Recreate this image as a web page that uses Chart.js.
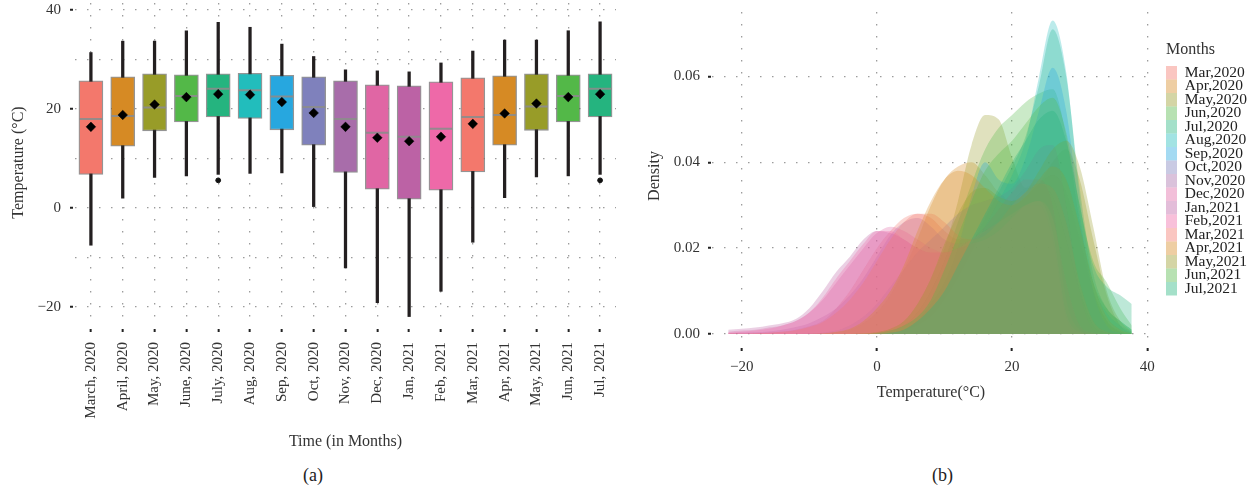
<!DOCTYPE html>
<html>
<head>
<meta charset="utf-8">
<script src="https://cdn.jsdelivr.net/npm/chart.js@4.4.1/dist/chart.umd.min.js"></script>
<style>
  html, body { margin:0; padding:0; background:#fff; }
  body { width:1258px; height:491px; position:relative; overflow:hidden; font-family:"Liberation Serif", serif; }
  #boxWrap { position:absolute; left:0; top:0; }
  #densWrap { position:absolute; left:640px; top:0; }
  .cap { position:absolute; top:465px; font-size:18px; line-height:20px; color:#222; }
</style>
</head>
<body>
<div id="boxWrap"><canvas id="boxChart" width="640" height="455"></canvas></div>
<div id="densWrap"><canvas id="densChart" width="618" height="420"></canvas></div>
<div class="cap" style="left:303px">(a)</div>
<div class="cap" style="left:932px">(b)</div>
<script>
const FONT = '"Liberation Serif", "Times New Roman", serif';

// ---- panel (a): monthly box plots ----
const months = ["March, 2020","April, 2020","May, 2020","June, 2020","July, 2020","Aug, 2020","Sep, 2020",
  "Oct, 2020","Nov, 2020","Dec, 2020","Jan, 2021","Feb, 2021","Mar, 2021","Apr, 2021","May, 2021","Jun, 2021","Jul, 2021"];
const whiskLo = [-7.5, 2.0, 6.2, 6.5, 6.8, 7.0, 7.1, 0.3, -12.1, -19.1, -21.9, -16.8, -6.9, 2.1, 6.3, 6.5, 6.8];
const q1      = [ 6.8, 12.5, 15.6, 17.4, 18.4, 18.1, 15.8, 12.7, 7.2, 3.8, 1.8, 3.6, 7.3, 12.7, 15.7, 17.4, 18.4];
const median  = [18.0, 18.6, 20.3, 22.6, 24.1, 23.8, 22.5, 20.4, 18.0, 15.2, 14.4, 16.0, 18.4, 18.8, 20.5, 22.6, 24.1];
const q3      = [25.7, 26.5, 27.1, 26.9, 27.1, 27.2, 26.8, 26.5, 25.7, 24.9, 24.7, 25.5, 26.3, 26.7, 27.1, 26.9, 27.1];
const whiskHi = [31.4, 33.7, 33.7, 35.8, 37.5, 36.5, 33.1, 30.6, 27.9, 27.7, 27.5, 29.3, 31.7, 33.9, 33.9, 35.8, 37.6];
const mean    = [16.4, 18.8, 20.9, 22.4, 23.0, 22.9, 21.4, 19.2, 16.4, 14.2, 13.5, 14.4, 17.0, 19.1, 21.1, 22.4, 23.0];
const outlier = [null, null, null, null, 5.6, null, null, null, null, null, null, null, null, null, null, null, 5.6];
const yTicksA = [-20, -10, 0, 10, 20, 30, 40];

const palette = ["#F3786C","#D68A24","#989C28","#53B848","#25B47F","#22BDBC","#27A7DF","#7F81BC","#A86DAA",
  "#E066A4","#BC62A5","#EE69A8","#F3786C","#D68A24","#989C28","#53B848","#25B47F"];

// ---- panel (b): density curves ----
const densMonths = ["Mar,2020","Apr,2020","May,2020","Jun,2020","Jul,2020","Aug,2020","Sep,2020","Oct,2020",
  "Nov,2020","Dec,2020","Jan,2021","Feb,2021","Mar,2021","Apr,2021","May,2021","Jun,2021","Jul,2021"];
const tempX = [-22,-20,-18,-16,-14,-12,-10,-8,-6,-4,-2,0,2,4,6,8,10,12,14,16,18,20,22,24,26,28,30,32,34,36,37.7];
const densMar20 = [0.0001,0.0001,0.0002,0.0003,0.0005,0.001,0.0018,0.003,0.006,0.010,0.015,0.020,0.024,0.027,0.028,0.027,0.024,0.022,0.022,0.024,0.027,0.031,0.034,0.035,0.032,0.022,0.010,0.002,0.0003,0,0];
const densApr20 = [0,0,0,0,0,0,0,0.0001,0.0004,0.001,0.0025,0.005,0.009,0.015,0.022,0.030,0.036,0.039,0.040,0.037,0.033,0.031,0.032,0.035,0.037,0.033,0.022,0.010,0.003,0.0005,0];
const densMay20 = [0,0,0,0,0,0,0,0,0,0,0.0001,0.0004,0.0012,0.003,0.007,0.013,0.020,0.031,0.044,0.051,0.050,0.041,0.034,0.035,0.040,0.043,0.036,0.022,0.009,0.002,0.0002];
const densJun20 = [0,0,0,0,0,0,0,0,0,0,0,0.0002,0.0008,0.002,0.005,0.010,0.017,0.026,0.035,0.043,0.048,0.051,0.054,0.056,0.057,0.046,0.026,0.012,0.006,0.003,0.001];
const densJul20 = [0,0,0,0,0,0,0,0,0,0,0,0,0.0003,0.001,0.003,0.006,0.010,0.015,0.021,0.027,0.033,0.039,0.046,0.058,0.071,0.060,0.034,0.014,0.006,0.003,0.001];
const densAug20 = [0,0,0,0,0,0,0,0,0,0,0,0,0.0002,0.0008,0.002,0.004,0.008,0.013,0.019,0.025,0.031,0.037,0.045,0.060,0.073,0.061,0.032,0.012,0.005,0.002,0.0005];
const densSep20 = [0,0,0,0,0,0,0,0,0,0,0,0,0.0003,0.001,0.003,0.007,0.012,0.020,0.032,0.040,0.036,0.035,0.041,0.052,0.062,0.052,0.028,0.010,0.002,0.0003,0];
const densOct20 = [0,0,0,0,0,0,0.0001,0.0003,0.0008,0.002,0.004,0.007,0.011,0.015,0.019,0.022,0.025,0.028,0.030,0.031,0.032,0.034,0.038,0.043,0.044,0.030,0.010,0.001,0,0,0];
const densNov20 = [0.0002,0.0003,0.0004,0.0006,0.001,0.0016,0.0025,0.004,0.006,0.009,0.013,0.018,0.023,0.026,0.027,0.025,0.022,0.021,0.022,0.025,0.029,0.033,0.036,0.036,0.030,0.008,0.001,0,0,0,0];
const densDec20 = [0.0005,0.0008,0.001,0.0015,0.002,0.003,0.005,0.008,0.012,0.016,0.020,0.0235,0.025,0.024,0.022,0.020,0.019,0.020,0.021,0.022,0.024,0.027,0.030,0.031,0.024,0.005,0.0005,0,0,0,0];
const densJan21 = [0.001,0.0012,0.0015,0.002,0.0025,0.0035,0.006,0.010,0.0145,0.018,0.022,0.024,0.0235,0.022,0.020,0.019,0.019,0.020,0.021,0.022,0.024,0.027,0.030,0.030,0.022,0.004,0.0003,0,0,0,0];
const densFeb21 = [0.0003,0.0005,0.0008,0.0012,0.002,0.003,0.005,0.0085,0.013,0.017,0.021,0.024,0.024,0.022,0.020,0.019,0.019,0.020,0.022,0.024,0.026,0.028,0.030,0.031,0.027,0.012,0.002,0.0003,0,0,0];
const densMar21 = [0.0001,0.0001,0.0002,0.0003,0.0005,0.0009,0.0016,0.0028,0.005,0.008,0.012,0.017,0.022,0.026,0.028,0.028,0.026,0.023,0.022,0.023,0.026,0.030,0.033,0.035,0.034,0.026,0.012,0.003,0.0005,0,0];
const densApr21 = [0,0,0,0,0,0,0,0.0001,0.0005,0.0012,0.003,0.006,0.010,0.016,0.024,0.031,0.036,0.038,0.037,0.034,0.031,0.030,0.032,0.036,0.039,0.036,0.025,0.012,0.004,0.001,0.0001];
const densMay21 = [0,0,0,0,0,0,0,0,0,0,0.0001,0.0004,0.0012,0.003,0.007,0.013,0.021,0.028,0.033,0.034,0.032,0.031,0.033,0.038,0.043,0.045,0.039,0.025,0.010,0.003,0.0005];
const densJun21 = [0,0,0,0,0,0,0,0,0,0,0,0.0002,0.0008,0.002,0.004,0.008,0.015,0.023,0.031,0.038,0.042,0.045,0.049,0.053,0.055,0.047,0.030,0.017,0.012,0.006,0.002];
const densJul21 = [0,0,0,0,0,0,0,0,0,0,0,0,0.0003,0.001,0.003,0.006,0.010,0.016,0.022,0.028,0.034,0.040,0.045,0.050,0.052,0.045,0.030,0.016,0.011,0.009,0.007];
const densSeries = [densMar20, densApr20, densMay20, densJun20, densJul20, densAug20, densSep20, densOct20,
  densNov20, densDec20, densJan21, densFeb21, densMar21, densApr21, densMay21, densJun21, densJul21];
const xTicksB = [-20, 0, 20, 40];
const yTicksB = [0, 0.02, 0.04, 0.06];

function alpha(hex, a){
  const n = parseInt(hex.slice(1), 16);
  return `rgba(${n>>16},${(n>>8)&255},${n&255},${a})`;
}
function minus(v){ return v < 0 ? '\u2212' + Math.abs(v) : String(v); }
// keep the chart area where it is: no extra room for half tick labels
function noPad(s){ s.paddingTop = 0; s.paddingBottom = 0; s.paddingLeft = 0; s.paddingRight = 0; }

const GRID = '#9c9c9c';
const DOTS = [1.5, 10.5];

Chart.defaults.font.family = FONT;
Chart.defaults.color = '#333';

// (a) box plots from floating bars + point markers
new Chart(document.getElementById('boxChart'), {
  type: 'bar',
  data: {
    labels: months,
    datasets: [
      { label:'whisker', data: months.map((m,i)=>[whiskLo[i], whiskHi[i]]), backgroundColor:'#231f20',
        barThickness:2.6, grouped:false, order:4 },
      { label:'box', data: months.map((m,i)=>[q1[i], q3[i]]), backgroundColor: palette,
        borderColor:'rgba(60,60,60,0.55)', borderWidth:1.3, borderSkipped:false, barThickness:24, grouped:false, order:3 },
      { type:'line', label:'median', data: median, showLine:false, pointStyle:'line', pointRadius:11.5,
        borderColor:'rgba(140,140,140,0.9)', pointBorderWidth:2, order:2 },
      { type:'line', label:'mean', data: mean, showLine:false, pointStyle:'rectRot', pointRadius:4.8,
        backgroundColor:'#000', borderColor:'#000', pointBorderWidth:0.5, order:1 },
      { type:'line', label:'outlier', data: outlier, showLine:false, pointStyle:'circle', pointRadius:2.4,
        backgroundColor:'#111', borderColor:'#111', order:1 }
    ]
  },
  options: {
    responsive:false, animation:false,
    layout:{ autoPadding:false, padding:{ top:3, right:24, bottom:0, left:0 } },
    plugins:{ legend:{ display:false }, tooltip:{ enabled:false } },
    scales:{
      x:{
        offset:true,
        grid:{ offset:false, color:GRID, lineWidth:1.3, tickLength:11, tickColor:'#222', tickWidth:2, tickBorderDash:[0,7,3,50] },
        border:{ display:false, dash:DOTS },
        ticks:{ minRotation:90, maxRotation:90, autoSkip:false, padding:9, color:'#333', font:{ size:15 } },
        title:{ display:true, text:'Time (in Months)', color:'#333', font:{ size:16 }, padding:{ top:0, bottom:4 } },
        afterFit: s => { s.height = 133; noPad(s); }
      },
      y:{
        min:-23, max:41.4,
        afterBuildTicks: s => { s.ticks = yTicksA.map(v => ({ value:v })); },
        grid:{ color:GRID, lineWidth:1.3, tickLength:7, tickWidth:2, tickBorderDash:[0,2,3,20],
          tickColor: c => (c.tick && c.tick.value % 20 === 0) ? '#222' : 'rgba(0,0,0,0)' },
        border:{ display:false, dash:DOTS },
        ticks:{ padding:7, color:'#333', font:{ size:15 }, callback: v => v % 20 === 0 ? minus(v) : '' },
        title:{ display:true, text:'Temperature (\u00B0C)', color:'#333', font:{ size:16 }, padding:{ top:9, bottom:0 } },
        afterFit: s => { s.width = 75; noPad(s); }
      }
    }
  }
});

// (b) overlapping density areas
const legendShift = {
  id:'legendShift',
  afterLayout(chart){
    const lg = chart.legend;
    if (!lg) return;
    const w = lg.width;
    lg.left = 526; lg.right = 526 + w;
  }
};

new Chart(document.getElementById('densChart'), {
  type:'line',
  data:{
    datasets: densSeries.map((s, i) => ({
      label: densMonths[i],
      data: tempX.map((x, k) => ({ x:x, y:s[k] })),
      fill:'origin',
      backgroundColor: alpha(palette[i], 0.3),
      borderColor:'rgba(0,0,0,0)',
      borderWidth:0,
      pointRadius:0,
      cubicInterpolationMode:'monotone',
      order: -i
    }))
  },
  options:{
    responsive:false, animation:false,
    layout:{ autoPadding:false, padding:{ top:12, right:17, bottom:0, left:0 } },
    plugins:{
      tooltip:{ enabled:false },
      legend:{
        position:'right', align:'start',
        title:{ display:true, text:'Months', position:'start', color:'#333', font:{ size:16 }, padding:{ top:29.3, bottom:6.5 } },
        labels:{ boxWidth:13, boxHeight:13.5, padding:-2, color:'#222', font:{ size:15.5 },
          sort:(a, b) => a.datasetIndex - b.datasetIndex,
          generateLabels: chart => Chart.defaults.plugins.legend.labels.generateLabels(chart)
            .map(l => Object.assign(l, { fillStyle: alpha(palette[l.datasetIndex], 0.42), lineWidth:0 })) }
      }
    },
    scales:{
      x:{
        type:'linear', min:-24.4, max:40.4,
        afterBuildTicks: s => { s.ticks = xTicksB.map(v => ({ value:v })); },
        grid:{ color:GRID, lineWidth:1.3, tickLength:12, tickColor:'#222', tickWidth:2, tickBorderDash:[0,8,3,50] },
        border:{ display:false, dash:DOTS },
        ticks:{ padding:6, color:'#333', font:{ size:15 }, callback: v => minus(v) },
        title:{ display:true, text:'Temperature(\u00B0C)', color:'#333', font:{ size:16 }, padding:{ top:0, bottom:17.4 } },
        afterFit: s => { s.height = 80; noPad(s); }
      },
      y:{
        min:-0.0014, max:0.075,
        afterBuildTicks: s => { s.ticks = yTicksB.map(v => ({ value:v })); },
        grid:{ color:GRID, lineWidth:1.3, tickLength:6, tickColor:'#222', tickWidth:2, tickBorderDash:[0,2,3,20] },
        border:{ display:false, dash:DOTS },
        ticks:{ padding:6, color:'#333', font:{ size:15 }, callback: v => v.toFixed(2) },
        title:{ display:true, text:'Density', color:'#333', font:{ size:16 }, padding:{ top:5, bottom:0 } },
        afterFit: s => { s.width = 72; noPad(s); }
      }
    }
  },
  plugins:[legendShift]
});
</script>
</body>
</html>
